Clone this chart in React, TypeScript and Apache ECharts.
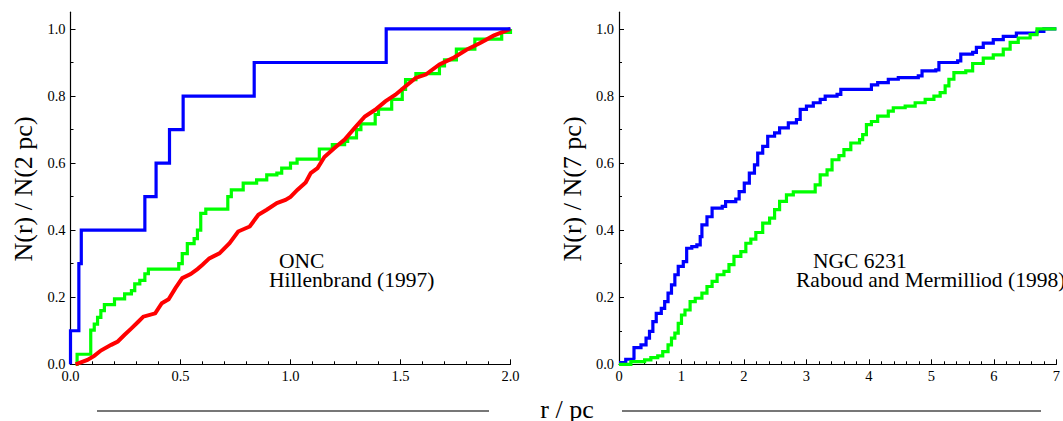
import React, { useEffect, useRef } from "react";
import * as echarts from "echarts";

// ONC (left panel), cumulative fractions N(r)/N(2 pc) — step points [r, fraction]
const oncBlue: [number, number][] = [
  [0, 0], [0, 0.1], [0.038, 0.3], [0.049, 0.4], [0.338, 0.5], [0.389, 0.6],
  [0.45, 0.7], [0.512, 0.8], [0.835, 0.9], [1.435, 1.0], [2.0, 1.0],
];
const oncGreen: [number, number][] = [
  [0.023, 0], [0.03, 0.03], [0.074, 0.03], [0.092, 0.102], [0.108, 0.12], [0.123, 0.14],
  [0.138, 0.16], [0.154, 0.178], [0.2, 0.195], [0.246, 0.21], [0.277, 0.22], [0.292, 0.24],
  [0.315, 0.25], [0.338, 0.27], [0.354, 0.284], [0.492, 0.3], [0.508, 0.33], [0.531, 0.36],
  [0.562, 0.375], [0.577, 0.4], [0.592, 0.45], [0.615, 0.463], [0.715, 0.5], [0.731, 0.52],
  [0.785, 0.54], [0.846, 0.55], [0.892, 0.565], [0.938, 0.57], [0.96, 0.585], [1.0, 0.6],
  [1.03, 0.612], [1.131, 0.642], [1.19, 0.655], [1.246, 0.665], [1.26, 0.675], [1.3, 0.7],
  [1.32, 0.717], [1.385, 0.745], [1.4, 0.761], [1.46, 0.79], [1.508, 0.82], [1.523, 0.849],
  [1.57, 0.867], [1.677, 0.89], [1.7, 0.908], [1.754, 0.94], [1.838, 0.97], [1.96, 0.99],
  [2.0, 1.0],
];
const oncRed: [number, number][] = [
  [0.023, 0], [0.077, 0.013], [0.108, 0.025], [0.138, 0.041], [0.185, 0.058], [0.215, 0.068],
  [0.246, 0.088], [0.277, 0.107], [0.308, 0.127], [0.331, 0.142], [0.385, 0.152], [0.415, 0.182],
  [0.446, 0.194], [0.477, 0.227], [0.508, 0.257], [0.546, 0.269], [0.577, 0.284], [0.6, 0.297],
  [0.631, 0.316], [0.677, 0.331], [0.723, 0.361], [0.762, 0.396], [0.815, 0.411], [0.854, 0.446],
  [0.892, 0.461], [0.938, 0.481], [0.977, 0.49], [1.0, 0.499], [1.031, 0.52], [1.069, 0.542],
  [1.092, 0.57], [1.123, 0.585], [1.154, 0.618], [1.2, 0.645], [1.246, 0.67], [1.292, 0.705],
  [1.338, 0.739], [1.385, 0.759], [1.431, 0.784], [1.477, 0.804], [1.523, 0.829], [1.569, 0.854],
  [1.615, 0.864], [1.677, 0.894], [1.738, 0.913], [1.8, 0.938], [1.862, 0.958], [1.923, 0.98],
  [2.0, 1.0],
];

// NGC 6231 (right panel), N(r)/N(7 pc)
const ngcBlue: [number, number][] = [
  [0, 0.005], [0.108, 0.015], [0.217, 0.017], [0.24, 0.05], [0.352, 0.058], [0.433, 0.078],
  [0.488, 0.098], [0.542, 0.127], [0.596, 0.152], [0.677, 0.167], [0.731, 0.187], [0.785, 0.212],
  [0.84, 0.237], [0.894, 0.267], [0.948, 0.292], [1.029, 0.306], [1.083, 0.346], [1.165, 0.351],
  [1.246, 0.356], [1.3, 0.381], [1.327, 0.416], [1.408, 0.44], [1.49, 0.466], [1.652, 0.471],
  [1.706, 0.485], [1.869, 0.493], [1.923, 0.515], [2.005, 0.54], [2.086, 0.57], [2.168, 0.595],
  [2.22, 0.63], [2.3, 0.65], [2.38, 0.68], [2.49, 0.69], [2.57, 0.705], [2.71, 0.72],
  [2.84, 0.73], [2.9, 0.76], [3.0, 0.77], [3.11, 0.78], [3.22, 0.79], [3.3, 0.8],
  [3.49, 0.805], [3.55, 0.82], [3.98, 0.82], [4.04, 0.833], [4.14, 0.84], [4.31, 0.85],
  [4.47, 0.855], [4.79, 0.86], [4.85, 0.875], [5.07, 0.878], [5.12, 0.9], [5.42, 0.905],
  [5.47, 0.925], [5.66, 0.93], [5.72, 0.945], [5.83, 0.958], [5.99, 0.968], [6.15, 0.978],
  [6.36, 0.988], [6.69, 0.993], [6.8, 1.0], [7.0, 1.0],
];
const ngcGreen: [number, number][] = [
  [0, 0], [0.19, 0.008], [0.41, 0.013], [0.51, 0.02], [0.62, 0.025], [0.7, 0.038],
  [0.785, 0.058], [0.84, 0.078], [0.894, 0.093], [0.948, 0.122], [1.0, 0.147], [1.056, 0.162],
  [1.138, 0.187], [1.22, 0.197], [1.327, 0.212], [1.408, 0.232], [1.49, 0.247], [1.57, 0.267],
  [1.68, 0.277], [1.76, 0.297], [1.84, 0.322], [1.95, 0.336], [2.03, 0.361], [2.11, 0.373],
  [2.19, 0.393], [2.3, 0.421], [2.41, 0.436], [2.49, 0.461], [2.57, 0.486], [2.68, 0.505],
  [2.79, 0.514], [3.0, 0.514], [3.14, 0.535], [3.22, 0.565], [3.33, 0.58], [3.41, 0.61],
  [3.52, 0.622], [3.6, 0.64], [3.71, 0.66], [3.85, 0.67], [3.9, 0.685], [3.96, 0.715],
  [4.04, 0.724], [4.14, 0.74], [4.31, 0.755], [4.39, 0.765], [4.58, 0.77], [4.74, 0.78],
  [4.9, 0.79], [5.04, 0.8], [5.14, 0.81], [5.22, 0.83], [5.28, 0.85], [5.36, 0.87],
  [5.55, 0.875], [5.66, 0.897], [5.83, 0.913], [5.99, 0.923], [6.15, 0.94], [6.26, 0.96],
  [6.39, 0.973], [6.58, 0.983], [6.69, 1.0], [7.0, 1.0],
];

const yMajorTicks = [0, 0.2, 0.4, 0.6, 0.8, 1.0];
const yMinorTicks = [0.1, 0.3, 0.5, 0.7, 0.9];
const leftYTitle = "N(r) / N(2 pc)";
const rightYTitle = "N(r) / N(7 pc)";
const xTitle = "r / pc";

const FONT = "'Liberation Serif', 'Times New Roman', 'DejaVu Serif', serif";

export default function App() {
  const ref = useRef<HTMLDivElement>(null);
  useEffect(() => {
    if (!ref.current) return;
    const chart = echarts.init(ref.current, undefined, { renderer: "svg" });

    const gridTop = 12.2;
    const gridH = 352.1;
    const grids = [
      { left: 70.5, top: gridTop, width: 440, height: gridH },
      { left: 619, top: gridTop, width: 440, height: gridH },
    ];

    const xAxisBase = (gi: number, max: number, interval: number, fmt: (v: number) => string) => ({
      type: "value",
      gridIndex: gi,
      min: 0,
      max,
      interval,
      axisLine: { show: true, onZero: false, lineStyle: { color: "#000", width: 1.2 } },
      axisTick: { show: true, inside: true, length: 5, lineStyle: { color: "#000", width: 1 } },
      minorTick: { show: true, splitNumber: 5, length: 3, lineStyle: { color: "#000", width: 1 } },
      axisLabel: { color: "#000", fontFamily: FONT, fontSize: 14.5, margin: 4, formatter: fmt },
      splitLine: { show: false },
      minorSplitLine: { show: false },
    });

    const yMajor = (gi: number) => ({
      type: "value",
      gridIndex: gi,
      position: "left",
      min: 0,
      max: 1.05,
      axisLine: { show: true, onZero: false, lineStyle: { color: "#000", width: 1.2 } },
      axisTick: { show: true, inside: true, length: 5, customValues: yMajorTicks, lineStyle: { color: "#000", width: 1 } },
      axisLabel: {
        color: "#000", fontFamily: FONT, fontSize: 14.5, margin: 5,
        customValues: yMajorTicks, formatter: (v: number) => v.toFixed(1),
      },
      splitLine: { show: false },
    });
    const yMinor = (gi: number) => ({
      type: "value",
      gridIndex: gi,
      position: "left",
      offset: 0,
      min: 0,
      max: 1.05,
      axisLine: { show: false },
      axisTick: { show: true, inside: true, length: 3, customValues: yMinorTicks, lineStyle: { color: "#000", width: 1 } },
      axisLabel: { show: false },
      splitLine: { show: false },
    });

    const lineSeries = (data: [number, number][], color: string, width: number, gi: number, step: any = "end") => ({
      type: "line",
      xAxisIndex: gi,
      yAxisIndex: gi === 0 ? 0 : 2,
      data,
      step,
      showSymbol: false,
      symbol: "none",
      lineStyle: { color, width, join: "miter", cap: "butt" },
      itemStyle: { color },
      silent: true,
    });

    const textEl = (text: string, x: number, y: number, size: number, extra: any = {}) => ({
      type: "text",
      x,
      y,
      silent: true,
      style: { text, fill: "#000", fontFamily: FONT, fontSize: size, ...extra.style },
      ...extra.el,
    });

    const ann = { align: "left", verticalAlign: "middle", lineHeight: 16 };

    chart.setOption({
      animation: false,
      backgroundColor: "#fff",
      grid: grids,
      xAxis: [
        xAxisBase(0, 2, 0.5, (v: number) => v.toFixed(1)),
        xAxisBase(1, 7, 1, (v: number) => String(Math.round(v))),
      ],
      yAxis: [yMajor(0), yMinor(0), yMajor(1), yMinor(1)],
      series: [
        lineSeries(oncGreen, "#00ff00", 3.2, 0),
        lineSeries(oncRed, "#ff0000", 4, 0, false),
        lineSeries(oncBlue, "#0000ff", 3.2, 0),
        lineSeries(ngcBlue, "#0000ff", 3.2, 1),
        lineSeries(ngcGreen, "#00ff00", 3.2, 1),
      ],
      graphic: [
        textEl(leftYTitle, 23, 189, 26, { style: { align: "center", verticalAlign: "middle" }, el: { rotation: Math.PI / 2 } }),
        textEl(rightYTitle, 572, 189, 26, { style: { align: "center", verticalAlign: "middle" }, el: { rotation: Math.PI / 2 } }),
        textEl("ONC", 279, 261, 21.5, { style: ann }),
        textEl("Hillenbrand (1997)", 269, 279.5, 21.5, { style: ann }),
        textEl("NGC 6231", 813, 261, 21.5, { style: ann }),
        textEl("Raboud and Mermilliod (1998)", 796, 279.5, 21.5, { style: ann }),
        textEl(xTitle, 567, 409, 26, { style: { align: "center", verticalAlign: "middle", lineHeight: 22 } }),
        { type: "line", silent: true, shape: { x1: 97, y1: 411, x2: 489, y2: 411 }, style: { stroke: "#777", lineWidth: 2 } },
        { type: "line", silent: true, shape: { x1: 622, y1: 411, x2: 1041, y2: 411 }, style: { stroke: "#777", lineWidth: 2 } },
      ],
    });
    return () => chart.dispose();
  }, []);
  return (
    <div
      ref={ref}
      style={{ position: "fixed", left: 0, top: 0, width: 1063, height: 421, background: "#fff" }}
    />
  );
}
